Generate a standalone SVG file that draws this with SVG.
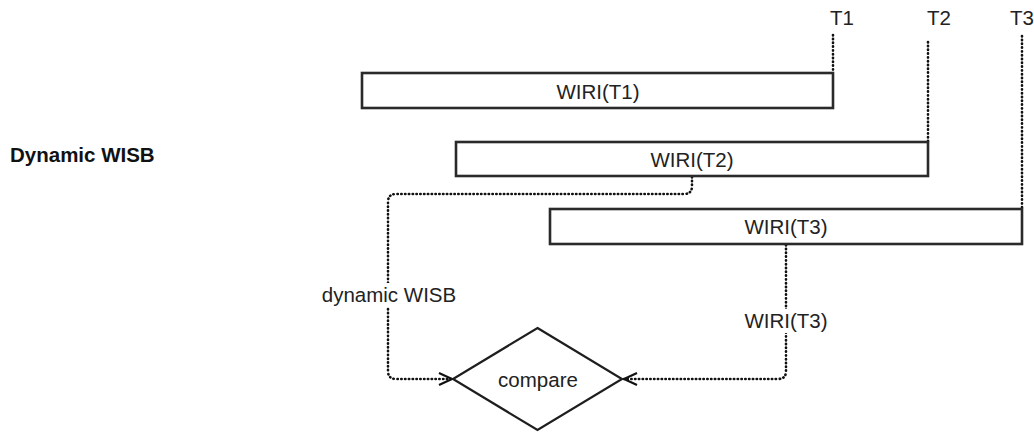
<svg xmlns="http://www.w3.org/2000/svg" width="1034" height="432" viewBox="0 0 1034 432">
  <style>
    .box { fill: #ffffff; stroke: #2a2a2a; stroke-width: 2.6; }
    .lbl { font-family: "Liberation Sans", Arial, sans-serif; font-size: 20.5px; fill: #222222; text-anchor: middle; }
    .dot { fill: none; stroke: #111111; stroke-width: 2.6; stroke-linecap: round; stroke-dasharray: 0.4 3.4; }
    .head { fill: none; stroke: #111111; stroke-width: 2.2; }
  </style>
  <defs>
    <marker id="open" viewBox="-15 -8 17 16" markerWidth="17" markerHeight="16" refX="0" refY="0" orient="auto" markerUnits="userSpaceOnUse">
      <path class="head" d="M-13,-6 L0,0 L-13,6"/>
    </marker>
  </defs>
  <rect width="1034" height="432" fill="#ffffff"/>

  <text x="10" y="162" style="font-family: 'Liberation Sans', Arial, sans-serif; font-size: 20.5px; font-weight: bold; fill: #111111;">Dynamic WISB</text>

  <g id="time-marks">
    <text class="lbl" x="842" y="25">T1</text>
    <text class="lbl" x="939" y="25">T2</text>
    <text class="lbl" x="1022" y="25">T3</text>
  </g>

  <g id="connectors">
    <path class="dot" d="M833,35 V73"/>
    <path class="dot" d="M928,42 V142"/>
    <path class="dot" d="M1022,36 V209"/>
    <path class="dot" d="M692,177 V186 Q692,194 684,194 H396 Q388,194 388,202 V371 Q388,379 396,379 H452" marker-end="url(#open)"/>
    <path class="dot" d="M786,245 V371 Q786,379 778,379 H624" marker-end="url(#open)"/>
    <rect x="318" y="283" width="142" height="24" fill="#ffffff"/>
    <text class="lbl" x="389" y="302">dynamic WISB</text>
    <rect x="741" y="309" width="91" height="24" fill="#ffffff"/>
    <text class="lbl" x="786" y="328">WIRI(T3)</text>
  </g>

  <g id="wiri-t1">
    <rect class="box" x="362" y="73" width="471" height="35"/>
    <text class="lbl" x="598" y="98.5">WIRI(T1)</text>
  </g>
  <g id="wiri-t2">
    <rect class="box" x="456" y="142" width="472" height="34"/>
    <text class="lbl" x="692" y="166.5">WIRI(T2)</text>
  </g>
  <g id="wiri-t3">
    <rect class="box" x="550" y="209" width="472" height="35"/>
    <text class="lbl" x="786" y="234">WIRI(T3)</text>
  </g>
  <g id="compare">
    <path d="M537.5,328 L622,379 L537.5,430 L453,379 Z" fill="#ffffff" stroke="#1e1e1e" stroke-width="2.2"/>
    <text class="lbl" x="538" y="386.5">compare</text>
  </g>
</svg>
